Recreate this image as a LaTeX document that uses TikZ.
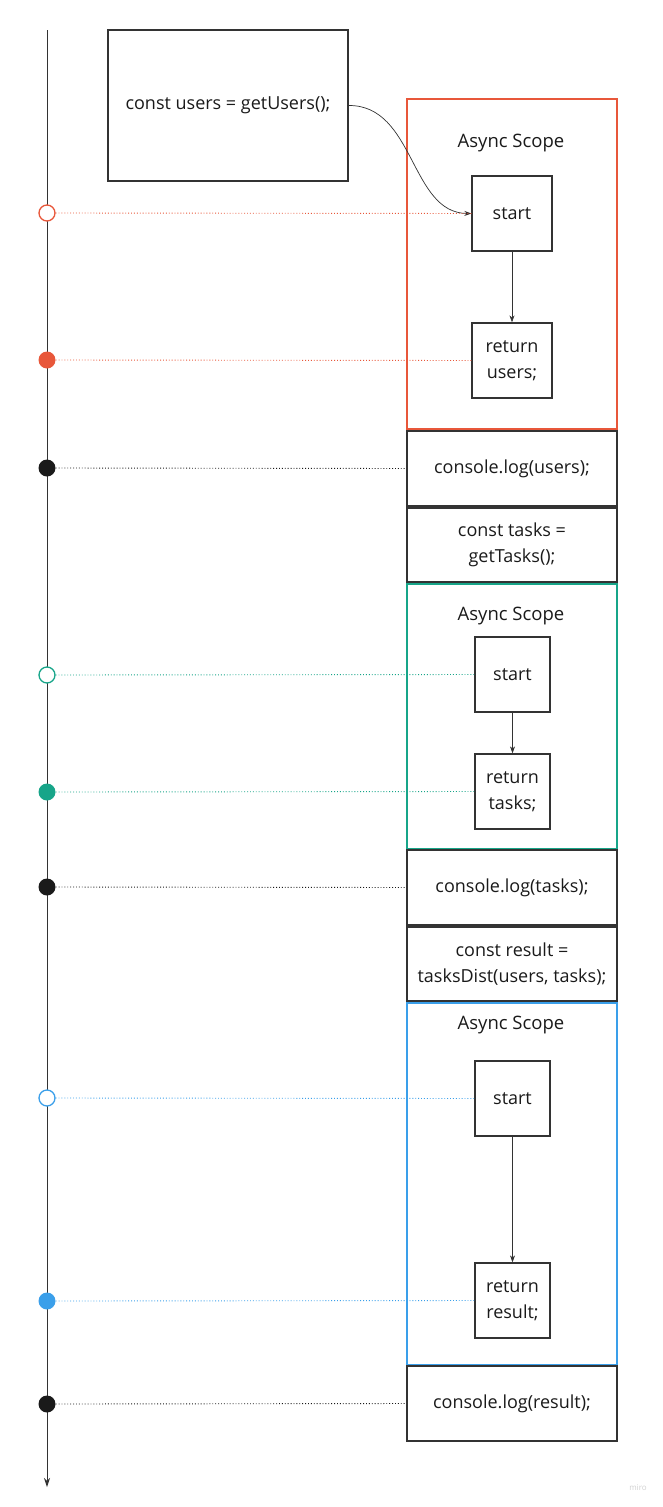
\documentclass[tikz,border=0pt]{standalone}
\usepackage{fontspec}
\setmainfont{Open Sans}
\usetikzlibrary{arrows.meta}
\definecolor{cred}{HTML}{E8573A}
\definecolor{cgreen}{HTML}{17A589}
\definecolor{cblue}{HTML}{3A9FEA}
\definecolor{cdark}{HTML}{1A1A1A}
\definecolor{cline}{HTML}{333333}
\tikzset{
  box/.style={draw=cline, line width=1.3pt, inner sep=0pt, align=center, font=\fontsize{18}{25.5}\selectfont, text=cdark},
  scope/.style={line width=1.5pt},
  title/.style={font=\fontsize{18.5}{22}\selectfont, text=cdark},
  conn/.style={draw=cline, line width=0.7pt, -{Stealth[length=7pt,width=5pt]}},
  dots/.style={line width=0.9pt, dotted},
  opendot/.style={circle, draw, line width=1.3pt, fill=white, minimum size=16pt, inner sep=0pt},
  filldot/.style={circle, minimum size=17pt, inner sep=0pt},
}
\begin{document}
\begin{tikzpicture}[x=1pt,y=-1pt]
\useasboundingbox (0,0) rectangle (663,1507);
% timeline
\coordinate (tl0) at (47,30);
\coordinate (tl1) at (47,1487);
\draw[draw=cline, line width=1pt, -{Stealth[length=9pt,width=6pt]}] (tl0) -- (tl1);

% first statement
\node[box, minimum width=240pt, minimum height=151pt] (getu) at (228,105.5) {\raisebox{2pt}{const users = getUsers();}};

% red scope
\draw[scope, draw=cred] (407,99) rectangle (617,429);
\node[title] (t1) at (511,143) {Async Scope};
\node[box, minimum width=80pt, minimum height=75pt] (s1) at (512,213.5) {start};
\node[box, minimum width=80pt, minimum height=75pt] (r1) at (512,360.5) {return\\users;};
\draw[conn] (getu.east) .. controls (415,105) and (410,213) .. (s1.west);
\draw[conn] (s1.south) -- (r1.north);

% green scope
\draw[scope, draw=cgreen] (407,584) rectangle (617,849);
\node[title] (t2) at (511,616) {Async Scope};
\node[box, minimum width=75pt, minimum height=75pt] (s2) at (512.5,674.5) {start};
\node[box, minimum width=75pt, minimum height=75pt] (r2) at (512.5,791.5) {return\\tasks;};
\draw[conn] (s2.south) -- (r2.north);

% blue scope
\draw[scope, draw=cblue] (407,1003) rectangle (617,1365);
\node[title] (t3) at (511,1025) {Async Scope};
\node[box, minimum width=75pt, minimum height=75pt] (s3) at (512.5,1098.5) {start};
\node[box, minimum width=75pt, minimum height=75pt] (r3) at (512.5,1300.5) {return\\result;};
\draw[conn] (s3.south) -- (r3.north);

% statement boxes
\node[box, minimum width=210pt, minimum height=75pt] (log1) at (512,468.5) {console.log(users);};
\node[box, minimum width=210pt, minimum height=74pt] (tasks) at (512,545) {const tasks =\\getTasks();};
\node[box, minimum width=210pt, minimum height=75pt] (log2) at (512,887.5) {console.log(tasks);};
\node[box, minimum width=210pt, minimum height=74pt] (res) at (512,964) {const result =\\tasksDist(users, tasks);};
\node[box, minimum width=210pt, minimum height=75pt] (log3) at (512,1403.5) {console.log(result);};

% timeline events
\node[opendot, draw=cred] (e1) at (47,213) {};
\node[filldot, fill=cred] (e2) at (47,360) {};
\node[filldot, fill=cdark] (e3) at (47,468) {};
\node[opendot, draw=cgreen] (e4) at (47,675) {};
\node[filldot, fill=cgreen] (e5) at (47,792) {};
\node[filldot, fill=cdark] (e6) at (47,887) {};
\node[opendot, draw=cblue] (e7) at (47,1098) {};
\node[filldot, fill=cblue] (e8) at (47,1301) {};
\node[filldot, fill=cdark] (e9) at (47,1404) {};

\draw[dots, cred] (e1.east) -- (s1.west);
\draw[dots, cred] (e2.east) -- (r1.west);
\draw[dots, cdark] (e3.east) -- (log1.west);
\draw[dots, cgreen] (e4.east) -- (s2.west);
\draw[dots, cgreen] (e5.east) -- (r2.west);
\draw[dots, cdark] (e6.east) -- (log2.west);
\draw[dots, cblue] (e7.east) -- (s3.west);
\draw[dots, cblue] (e8.east) -- (r3.west);
\draw[dots, cdark] (e9.east) -- (log3.west);

\node[font=\fontsize{8}{9}\selectfont, text=black!18] (miro) at (638,1488) {miro};
\end{tikzpicture}
\end{document}
